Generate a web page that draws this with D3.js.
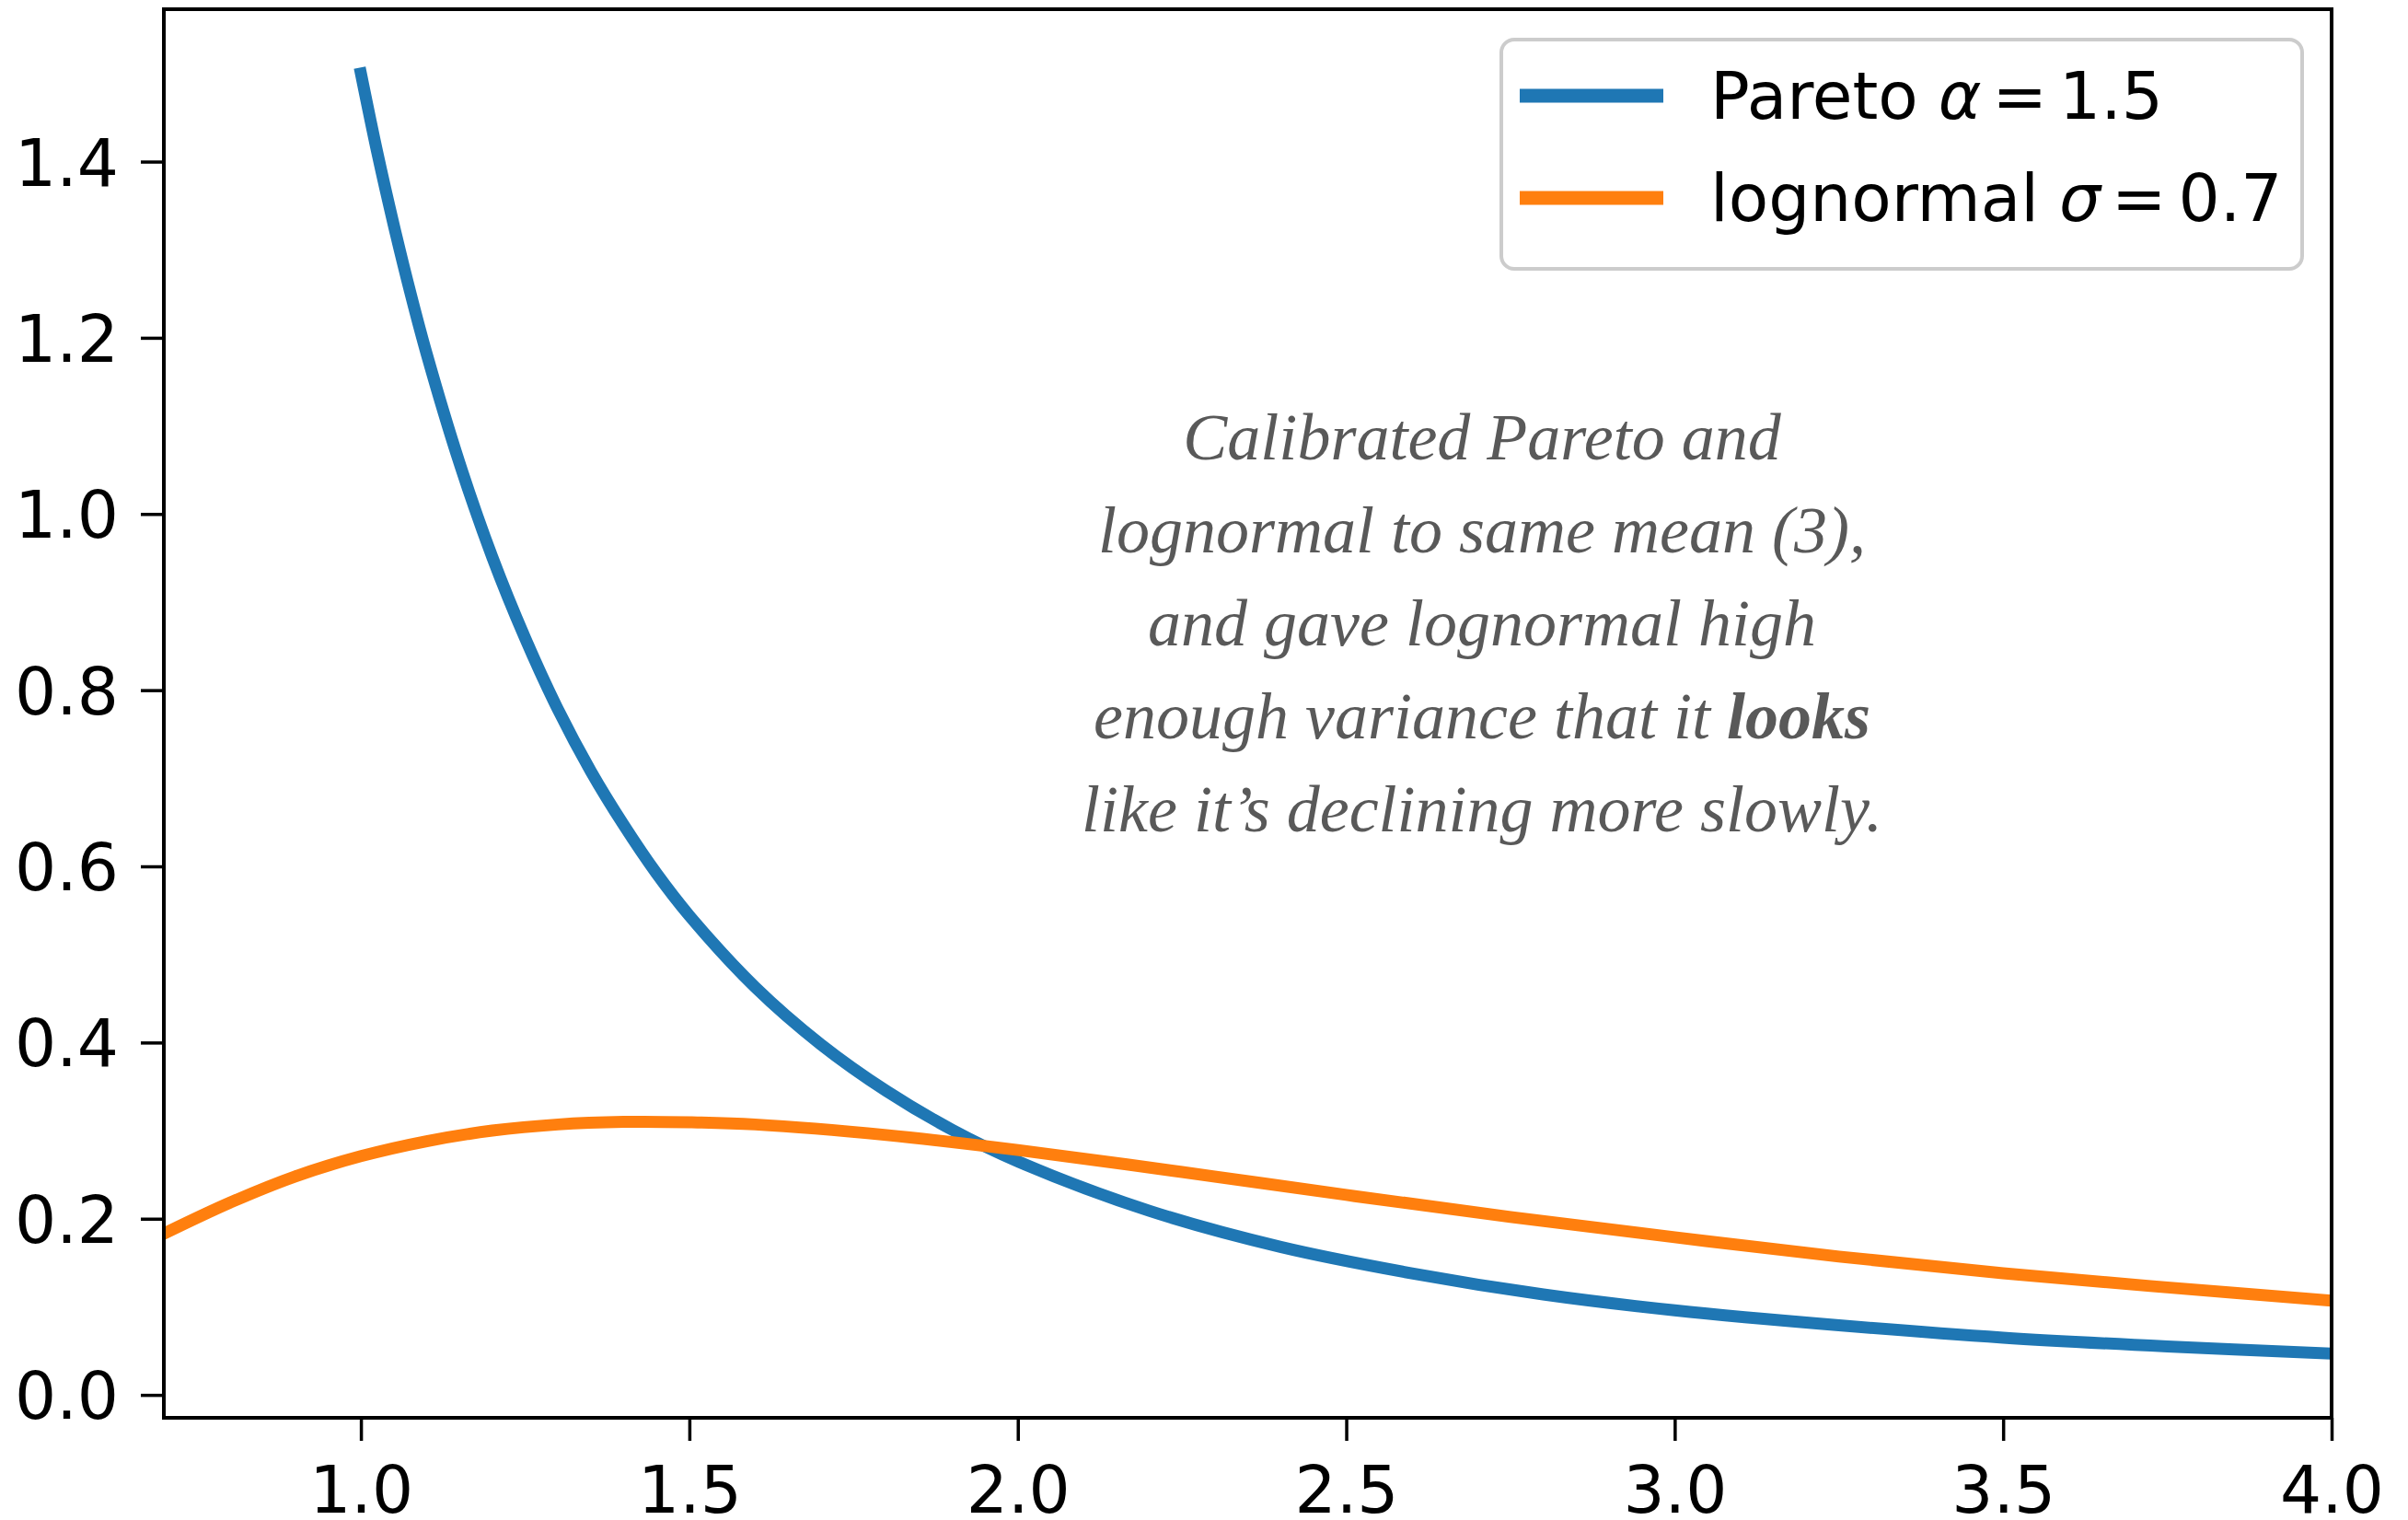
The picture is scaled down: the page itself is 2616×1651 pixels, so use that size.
<!DOCTYPE html>
<html>
<head>
<meta charset="utf-8">
<script src="https://cdn.jsdelivr.net/npm/d3@7"></script>
<style>
  body { margin: 0; background: #fff; }
  svg { display: block; }
</style>
</head>
<body>
<script>
// Data
const paretoX = [1.0, 1.025, 1.05, 1.075, 1.1, 1.15, 1.2, 1.25, 1.3, 1.35, 1.4, 1.45, 1.5, 1.6, 1.7, 1.8, 1.9, 2.0, 2.2, 2.4, 2.6, 2.8, 3.0, 3.25, 3.5, 3.75, 4.0]
const paretoY = [1.5, 1.410, 1.328, 1.252, 1.182, 1.058, 0.951, 0.859, 0.778, 0.708, 0.647, 0.592, 0.544, 0.463, 0.398, 0.345, 0.301, 0.265, 0.209, 0.168, 0.138, 0.114, 0.096, 0.079, 0.065, 0.055, 0.047]

const lognormalX = [0.7, 0.8, 0.9, 1.0, 1.1, 1.2, 1.3, 1.4, 1.5, 1.6, 1.8, 2.0, 2.25, 2.5, 2.75, 3.0, 3.25, 3.5, 3.75, 4.0]
const lognormalY = [0.183, 0.218, 0.248, 0.271, 0.288, 0.300, 0.307, 0.3099, 0.3095, 0.307, 0.295, 0.278, 0.253, 0.227, 0.202, 0.179, 0.157, 0.138, 0.122, 0.107]

const xTicks = [1.0, 1.5, 2.0, 2.5, 3.0, 3.5, 4.0]
const yTicks = [0.0, 0.2, 0.4, 0.6, 0.8, 1.0, 1.2, 1.4]

const legendNames = ["Pareto", "lognormal"]
const legendSymbols = ["α", "σ"]
const legendValues = ["1.5", "0.7"]

const noteLines = [
  ["Calibrated Pareto and"],
  ["lognormal to same mean (3),"],
  ["and gave lognormal high"],
  ["enough variance that it ", "looks"],
  ["like it’s declining more slowly."]
]

// Chart
const width = 2616, height = 1651
const plot = { left: 178, right: 2533, top: 10, bottom: 1540 }
const blue = "#1f77b4", orange = "#ff7f0e"
const tickFont = "'DejaVu Sans', sans-serif"

const svg = d3.select("body")
  .append("svg")
  .attr("width", width)
  .attr("height", height)

const x = d3.scaleLinear()
  .domain([0.7, 4.0])
  .range([plot.left, plot.right])

const y = d3.scaleLinear()
  .domain([-0.026, 1.573])
  .range([plot.bottom, plot.top])

svg.append("clipPath")
  .attr("id", "plotclip")
  .append("rect")
  .attr("x", plot.left)
  .attr("y", plot.top)
  .attr("width", plot.right - plot.left)
  .attr("height", plot.bottom - plot.top)

const line = d3.line()
  .x(d => x(d[0]))
  .y(d => y(d[1]))
  .curve(d3.curveCatmullRom.alpha(0.5))

const series = [
  { pts: d3.zip(paretoX, paretoY), color: blue },
  { pts: d3.zip(lognormalX, lognormalY), color: orange }
]

svg.append("g")
  .attr("clip-path", "url(#plotclip)")
  .selectAll("path")
  .data(series)
  .join("path")
  .attr("d", d => line(d.pts))
  .attr("fill", "none")
  .attr("stroke", d => d.color)
  .attr("stroke-width", 13)
  .attr("stroke-linecap", "square")
  .attr("stroke-linejoin", "round")

// axes
const xAxis = svg.append("g")
  .attr("transform", `translate(0, ${plot.bottom})`)
  .call(d3.axisBottom(x).tickValues(xTicks).tickSize(25).tickFormat(d3.format(".1f")))

const yAxis = svg.append("g")
  .attr("transform", `translate(${plot.left}, 0)`)
  .call(d3.axisLeft(y).tickValues(yTicks).tickSize(25).tickFormat(d3.format(".1f")))

svg.selectAll(".domain").remove()
svg.selectAll(".tick line").attr("stroke", "#000").attr("stroke-width", 3.5)
svg.selectAll(".tick text")
  .attr("font-family", tickFont)
  .attr("font-size", 71)
  .attr("fill", "#000")

xAxis.selectAll(".tick text").attr("y", 103).attr("dy", 0)
yAxis.selectAll(".tick text").attr("x", -49).attr("dy", "0.36em")

// spines
svg.append("rect")
  .attr("x", plot.left)
  .attr("y", plot.top)
  .attr("width", plot.right - plot.left)
  .attr("height", plot.bottom - plot.top)
  .attr("fill", "none")
  .attr("stroke", "#000")
  .attr("stroke-width", 4)

// legend
const legend = svg.append("g")

legend.append("rect")
  .attr("x", 1631)
  .attr("y", 43)
  .attr("width", 870)
  .attr("height", 249)
  .attr("rx", 14)
  .attr("fill", "#fff")
  .attr("fill-opacity", 0.8)
  .attr("stroke", "#cccccc")
  .attr("stroke-width", 4)

const items = legend.selectAll("g.item")
  .data(legendNames)
  .join("g")
  .attr("class", "item")
  .attr("transform", (d, i) => `translate(0, ${104 + i * 111})`)

items.append("line")
  .attr("x1", 1651)
  .attr("x2", 1807)
  .attr("stroke", (d, i) => series[i].color)
  .attr("stroke-width", 15)

const label = items.append("text")
  .attr("x", 1858)
  .attr("y", 25)
  .attr("font-family", tickFont)
  .attr("font-size", 71)
  .attr("fill", "#000")

label.append("tspan").text(d => d)
label.append("tspan")
  .attr("dx", 22)
  .attr("font-style", "italic")
  .text((d, i) => legendSymbols[i])
label.append("tspan").attr("dx", 12).text("=")
label.append("tspan").attr("dx", 13).text((d, i) => legendValues[i])

// annotation
const note = svg.append("text")
  .attr("font-family", "'Liberation Serif', 'Times New Roman', serif")
  .attr("font-style", "italic")
  .attr("font-size", 72)
  .attr("fill", "#595959")
  .attr("text-anchor", "middle")

noteLines.forEach((parts, i) => {
  const t = note.append("tspan")
    .attr("x", 1610)
    .attr("y", 499 + i * 101)
  parts.forEach((p, j) => {
    t.append("tspan")
      .attr("font-weight", j === 1 ? "bold" : null)
      .text(p)
  })
})
</script>
</body>
</html>
